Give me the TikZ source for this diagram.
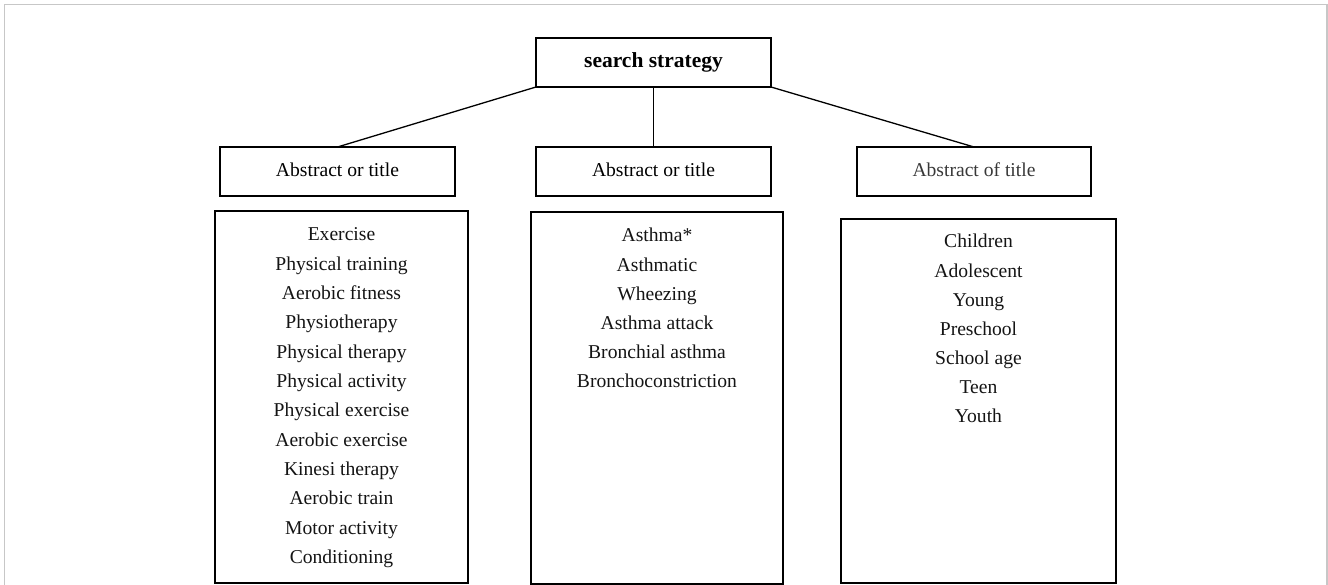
\documentclass[tikz,border=0pt]{standalone}
\usepackage{fontspec}
\setmainfont{Liberation Serif}
\begin{document}
\begin{tikzpicture}[x=1pt,y=-1pt,
  frame/.style={draw=black, line width=1.3pt, rectangle, inner sep=0pt, outer sep=0pt},
  titlebox/.style={frame, minimum width=235pt, minimum height=49pt,
    font=\fontsize{21.5}{26}\selectfont\bfseries, text height=14.7pt, text depth=4.7pt},
  headbox/.style={frame, minimum height=49pt,
    font=\fontsize{19.6}{24}\selectfont, text height=13.4pt, text depth=4.3pt},
  listbox/.style={frame},
  item/.style={inner sep=0pt, anchor=base, font=\fontsize{19.6}{24}\selectfont, text=black!92},
  link/.style={draw=black, line width=1.3pt}
]
\useasboundingbox (0,0) rectangle (1328,585);
% outer frame
\draw[draw=black!22, line width=1.5pt] (4.5,585) -- (4.5,4.7) -- (1327,4.7) -- (1327,585);

% top
\node[titlebox] (top) at (653.5,62.5) {search strategy};

% headers
\node[headbox, minimum width=235pt] (h1) at (337.5,171.5) {Abstract or title};
\node[headbox, minimum width=235pt] (h2) at (653.5,171.5) {Abstract or title};
\node[headbox, minimum width=234pt, text=black!78] (h3) at (974,171.5) {Abstract of title};

% connectors
\draw[link] (top.south west) -- (h1.north);
\draw[link] (top.south) -- (h2.north);
\draw[link] (top.south east) -- (h3.north);

% list boxes
\node[listbox, minimum width=253pt, minimum height=372pt] (b1) at (341.5,397) {};
\node[listbox, minimum width=252pt, minimum height=372pt] (b2) at (657,398) {};
\node[listbox, minimum width=275pt, minimum height=364pt] (b3) at (978.5,401) {};

% list items
\foreach \t [count=\i] in {Exercise, Physical training, Aerobic fitness, Physiotherapy,
  Physical therapy, Physical activity, Physical exercise, Aerobic exercise,
  Kinesi therapy, Aerobic train, Motor activity, Conditioning}
  \node[item] (L\i) at (341.5,{241+29.3*(\i-1)}) {\t};

\foreach \t [count=\i] in {Asthma*, Asthmatic, Wheezing, Asthma attack,
  Bronchial asthma, Bronchoconstriction}
  \node[item] (M\i) at (657,{242+29.1*(\i-1)}) {\t};

\foreach \t [count=\i] in {Children, Adolescent, Young, Preschool, School age, Teen, Youth}
  \node[item] (R\i) at (978.5,{248+29.1*(\i-1)}) {\t};
\end{tikzpicture}
\end{document}
